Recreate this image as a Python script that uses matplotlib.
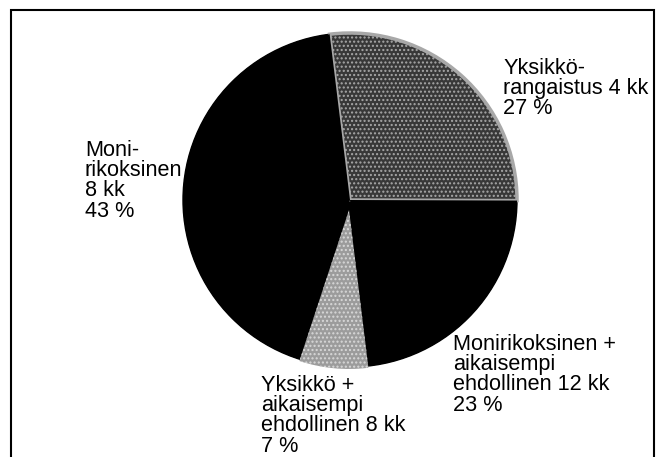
import matplotlib
matplotlib.use("Agg")
import matplotlib.pyplot as plt

labels = ["Yksikkö-\nrangaistus 4 kk\n27 %",
          "Monirikoksinen +\naikaisempi\nehdollinen 12 kk\n23 %",
          "Yksikkö +\naikaisempi\nehdollinen 8 kk\n7 %",
          "Moni-\nrikoksinen\n8 kk\n43 %"]
shares = [27, 23, 7, 43]

W, H = 663, 457
fig = plt.figure(figsize=(W / 100, H / 100), dpi=100)
ax = fig.add_axes([0, 0, 1, 1])

cx, cy, r = 350, H - 200, 167

# black backing disc
ax.add_patch(plt.Circle((cx, cy), r, color="black", zorder=1))

wedges, _ = ax.pie(shares, center=(cx, cy), radius=r, startangle=97,
                   counterclock=False, explode=[0, 0, 10, 0],
                   colors=["#383838", "black", "#9c9c9c", "black"],
                   frame=True)
for w in wedges:
    w.set_zorder(2)
wedges[0].set_hatch("....")
wedges[0].set_edgecolor("#a8a8a8")
wedges[0].set_linewidth(2.5)
wedges[2].set_hatch("....")
wedges[2].set_edgecolor("#d8d8d8")
wedges[2].set_linewidth(0)
wedges[2].set_radius(r - 8)
ax.set_xlim(0, W)
ax.set_ylim(0, H)
ax.set_aspect("equal")
ax.axis("off")

# label positions (left, top in pixels)
pos = [(503, 58), (453, 334), (261, 375), (85, 140)]
for (x, y), t in zip(pos, labels):
    ax.text(x, H - y, t, ha="left", va="top", fontsize=15.6,
            family="Liberation Sans", linespacing=0.95, color="black")

# frame
ax.plot([11, 11, 654, 654], [0, H - 10, H - 10, 0], color="black", lw=1.5,
        solid_joinstyle="miter")

fig.savefig("out.png", dpi=100)
